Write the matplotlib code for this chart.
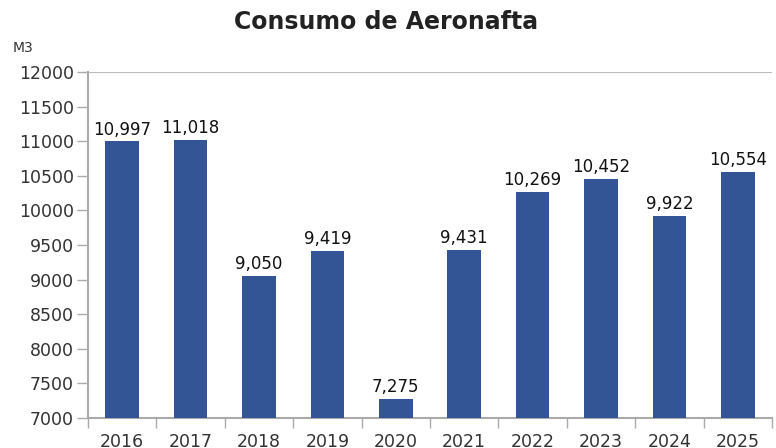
import matplotlib
matplotlib.use("Agg")
import matplotlib.pyplot as plt
import numpy as np

years = ["2016", "2017", "2018", "2019", "2020", "2021", "2022", "2023", "2024", "2025"]
values = [10997, 11018, 9050, 9419, 7275, 9431, 10269, 10452, 9922, 10554]
yticks = [7000, 7500, 8000, 8500, 9000, 9500, 10000, 10500, 11000, 11500, 12000]

fig = plt.figure(figsize=(7.76, 4.48), dpi=100)
ax = fig.add_axes([88/776, 1-418/448, (772-88)/776, (418-72)/448])

x = np.arange(len(years))
bar_color = "#345595"
ax.bar(x, values, width=0.49, color=bar_color, zorder=3)

ax.set_xlim(-0.5, len(years)-0.5)
ax.set_ylim(7000, 12000)
ax.set_yticks(yticks)
ax.set_yticklabels([str(v) for v in yticks], fontsize=12.5, color="#333333")

# category boundary ticks
ax.set_xticks(np.arange(-0.5, len(years), 1.0))
ax.set_xticklabels([])
ax.set_xticks(x, minor=True)
ax.set_xticklabels(years, minor=True, fontsize=12.5, color="#333333")
ax.tick_params(axis="x", which="major", length=7, color="#aaaaaa", width=1)
ax.tick_params(axis="x", which="minor", length=0, pad=11)
ax.tick_params(axis="y", length=8, color="#aaaaaa", width=1, pad=2)

ax.axhline(12000, color="#bbbbbb", lw=1.5, zorder=1)
for s in ["top", "right"]:
    ax.spines[s].set_visible(False)
for s in ["left", "bottom"]:
    ax.spines[s].set_color("#aaaaaa")
    ax.spines[s].set_linewidth(1.5)

for xi, v in zip(x, values):
    ax.text(xi, v + 40, f"{v:,}", ha="center", va="bottom", fontsize=12, color="#111111")

fig.text(386/776, 1-22/448, "Consumo de Aeronafta", ha="center", va="center",
         fontsize=17, fontweight="bold", color="#222222")
fig.text(13/776, 1-48/448, "M3", ha="left", va="center", fontsize=10, color="#333333")

fig.savefig("out.png", dpi=100)
